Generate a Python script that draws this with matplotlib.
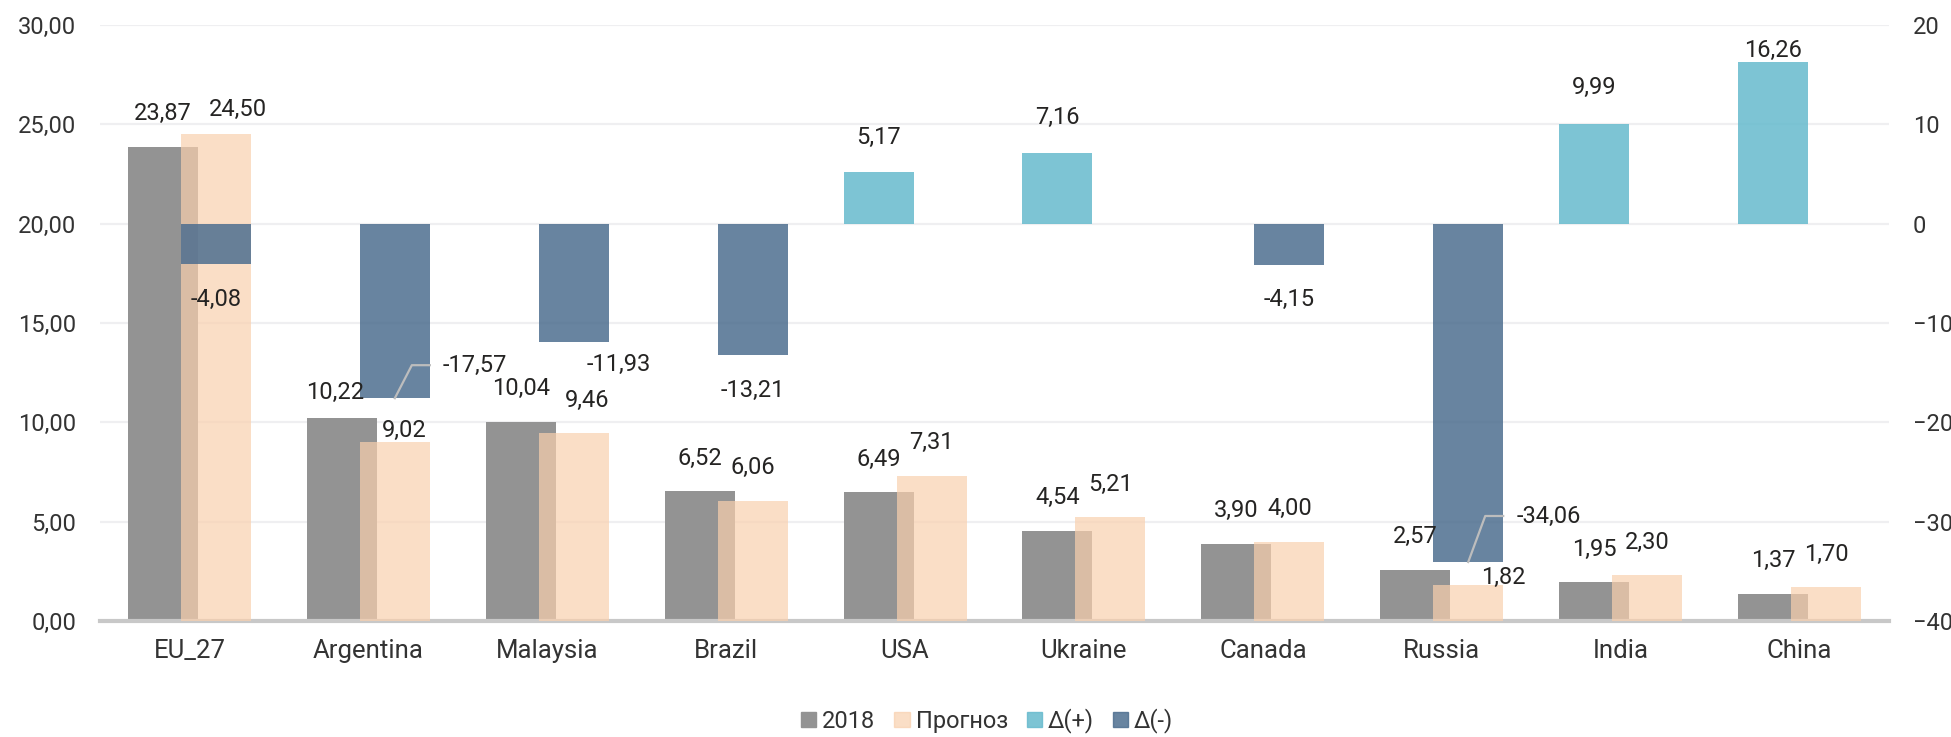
import matplotlib
matplotlib.use("Agg")
import matplotlib.pyplot as plt
import numpy as np
from matplotlib.patches import Patch

plt.rcParams['font.family'] = ['Roboto', 'DejaVu Sans']

countries = ['EU_27', 'Argentina', 'Malaysia', 'Brazil', 'USA',
             'Ukraine', 'Canada', 'Russia', 'India', 'China']
y2018 = [23.87, 10.22, 10.04, 6.52, 6.49, 4.54, 3.90, 2.57, 1.95, 1.37]
forecast = [24.50, 9.02, 9.46, 6.06, 7.31, 5.21, 4.00, 1.82, 2.30, 1.70]
delta = [-4.08, -17.57, -11.93, -13.21, 5.17, 7.16, -4.15, -34.06, 9.99, 16.26]
legend_labels = ['2018', 'Прогноз', 'Δ(+)', 'Δ(-)']

c_2018 = '#939393'
c_fc = '#f9d0ae'
c_pos = '#66bacd'
c_neg = '#4d6e8f'
txt = '#252423'
fs = 17

def fmt(v):
    return f"{v:.2f}".replace('.', ',')

# label offsets in pixels (dx, dy), mostly default
off_2018 = [(0, 33)] * 10
off_2018[1] = (-7, 25)
off_fc = [(0, 33)] * 10
off_fc[0] = (22, 25)
off_fc[1] = (9, 11)
off_fc[2] = (13, 33)
off_fc[7] = (35, 7)
off_neg = {0: (0, -35), 2: (45, -22), 3: (0, -36), 6: (0, -35)}
off_pos = {4: (0, 35), 5: (0, 35), 8: (0, 37), 9: (0, 12)}
# leader lines: label placed left-aligned, line from bar bottom
leaders = {1: 33, 7: 46}

x = np.arange(len(countries))
w = 0.391
sh = 0.148
d = np.array(delta)
d_pos = np.where(d > 0, d, np.nan)
d_neg = np.where(d < 0, d, np.nan)

fig = plt.figure(figsize=(19.51, 7.37), dpi=100)
ax = fig.add_axes([100 / 1951, 116 / 737, 1789 / 1951, 596 / 737])
ax2 = ax.twinx()

ax.bar(x - sh, y2018, w, color=c_2018, zorder=2)
ax.bar(x + sh, forecast, w, color=c_fc, alpha=0.7, zorder=3)
ax2.bar(x - sh, d_pos, w, color=c_pos, alpha=0.85, zorder=2)
ax2.bar(x + sh, d_neg, w, color=c_neg, alpha=0.85, zorder=2)

ax.set_xlim(-0.5, len(countries) - 0.5)
ax.set_ylim(0, 30)
ax2.set_ylim(-40, 20)
ax.set_yticks(np.arange(0, 31, 5))
ax.set_yticklabels([fmt(v) for v in np.arange(0, 31, 5)])
ax2.set_yticks(np.arange(-40, 21, 10))
ax.set_xticks(x)
ax.set_xticklabels(countries, fontsize=18.5)

ax.grid(axis='y', color='#efeff1', linewidth=1.6, zorder=0)
ax.set_axisbelow(True)
for s in ['top', 'left', 'right']:
    ax.spines[s].set_visible(False)
for s in ax2.spines.values():
    s.set_visible(False)
ax.spines['bottom'].set_color('#c8c8c8')
ax.spines['bottom'].set_linewidth(3)
ax.tick_params(axis='y', length=0, labelsize=fs, labelcolor='#333333', pad=17)
ax.tick_params(axis='x', length=0, labelcolor='#333333', pad=13)
ax2.tick_params(axis='y', length=0, labelsize=fs, labelcolor='#333333', pad=17)

# data labels (drawn on top axes)
for i in range(len(countries)):
    ax2.annotate(fmt(y2018[i]), xy=(x[i] - sh, y2018[i]), xycoords=ax.transData,
                 xytext=off_2018[i], textcoords='offset pixels',
                 ha='center', va='center', fontsize=fs, color=txt, zorder=5)
    ax2.annotate(fmt(forecast[i]), xy=(x[i] + sh, forecast[i]), xycoords=ax.transData,
                 xytext=off_fc[i], textcoords='offset pixels',
                 ha='center', va='center', fontsize=fs, color=txt, zorder=5)
    if i in off_pos:
        ax2.annotate(fmt(delta[i]), xy=(x[i] - sh, delta[i]),
                     xytext=off_pos[i], textcoords='offset pixels',
                     ha='center', va='center', fontsize=fs, color=txt, zorder=5)
    elif i in off_neg:
        ax2.annotate(fmt(delta[i]), xy=(x[i] + sh, delta[i]),
                     xytext=off_neg[i], textcoords='offset pixels',
                     ha='center', va='center', fontsize=fs, color=txt, zorder=5)

# leader lines for the long negative bars
for i, up in leaders.items():
    p0 = ax2.transData.transform((x[i] + sh, delta[i]))
    pts = p0 + np.array([[0, 0], [17, up], [35, up]])
    dat = ax2.transData.inverted().transform(pts)
    ax2.plot(dat[:, 0], dat[:, 1], color='#bdbdbd', lw=1.6, zorder=4)
    ax2.annotate(fmt(delta[i]), xy=(x[i] + sh, delta[i]),
                 xytext=(48, up), textcoords='offset pixels',
                 ha='left', va='center', fontsize=fs, color=txt, zorder=5)

handles = [Patch(color=c_2018), Patch(color=c_fc, alpha=0.7),
           Patch(color=c_pos, alpha=0.85), Patch(color=c_neg, alpha=0.85)]
fig.legend(handles, legend_labels, loc='center', bbox_to_anchor=(0.506, 0.022),
           ncol=4, frameon=False, fontsize=fs, handlelength=0.65, handleheight=0.65,
           handletextpad=0.25, columnspacing=0.8, labelcolor='#333333')

fig.savefig('out.png', dpi=100)
